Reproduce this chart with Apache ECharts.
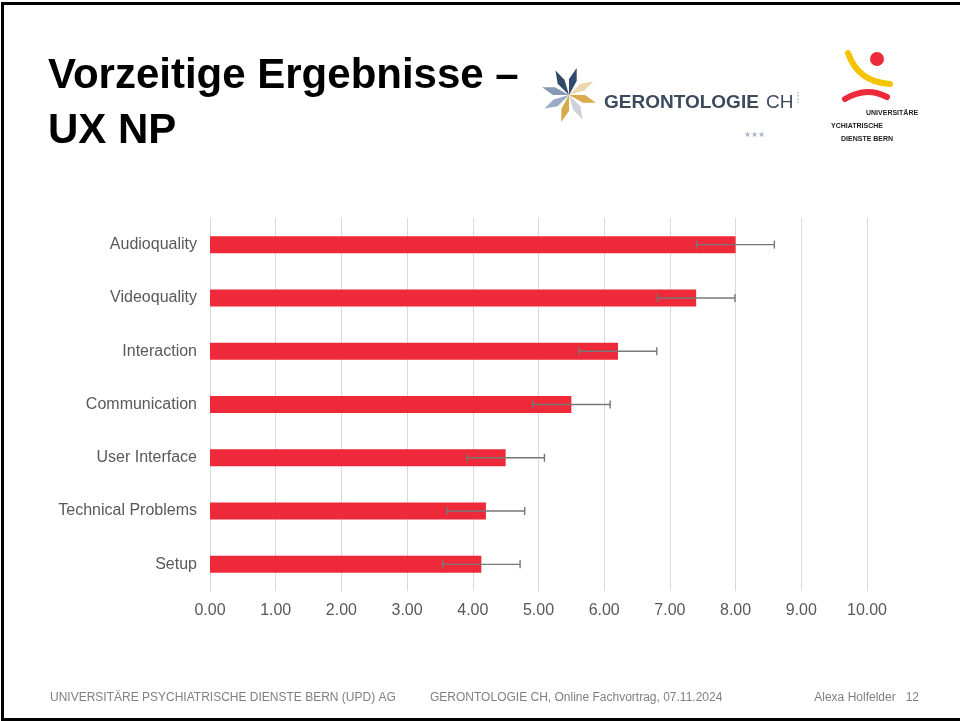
<!DOCTYPE html>
<html>
<head>
<meta charset="utf-8">
<script src="https://cdn.jsdelivr.net/npm/echarts@6/dist/echarts.min.js"></script>
<style>
  html, body { margin: 0; padding: 0; background: #fff; }
  #main { width: 960px; height: 721px; }
</style>
</head>
<body>
<div id="main"></div>
<script>
// chart data
const categories = ["Audioquality", "Videoquality", "Interaction", "Communication", "User Interface", "Technical Problems", "Setup"]
const means = [8.0, 7.4, 6.21, 5.5, 4.5, 4.2, 4.13]
const errors = [0.59, 0.59, 0.59, 0.59, 0.59, 0.59, 0.59]
const xTicks = [0, 1, 2, 3, 4, 5, 6, 7, 8, 9, 10]

const titleLines = ["Vorzeitige Ergebnisse –", "UX NP"]
const footerLeft = "UNIVERSITÄRE PSYCHIATRISCHE DIENSTE BERN (UPD) AG"
const footerMid = "GERONTOLOGIE CH, Online Fachvortrag, 07.11.2024"
const footerRight = "Alexa Holfelder   12"

const font = "'Liberation Sans', Arial, sans-serif"
const myChart = echarts.init(document.getElementById("main"))

const errData = categories.map((c, i) => [i, means[i] - errors[i], means[i] + errors[i]])

// petals of the gerontologie flower logo
function flowerPetals (cx, cy) {
  const colors = ["#1e3a5f", "#e9d6a6", "#d6a43c", "#c9ccd4", "#d3a23a", "#90a4bf", "#7c8fab", "#1f3b60"]
  const out = []
  for (let k = 0; k < 8; k++) {
    const a = (k * Math.PI) / 4 - Math.PI / 2
    const b = a + 0.5
    const p0 = [cx, cy]
    const p1 = [cx + 16 * Math.cos(a), cy + 16 * Math.sin(a)]
    const p2 = [cx + 28 * Math.cos(a + 0.28), cy + 28 * Math.sin(a + 0.28)]
    const p3 = [cx + 16 * Math.cos(b), cy + 16 * Math.sin(b)]
    out.push({
      type: "polygon",
      shape: { points: [p0, p1, p2, p3] },
      style: { fill: colors[k], opacity: 0.92 }
    })
  }
  return out
}

const option = {
  backgroundColor: "#fff",
  animation: false,
  grid: { left: 210, top: 218, width: 657, height: 373, containLabel: false },
  xAxis: {
    type: "value",
    min: 0,
    max: 10,
    interval: 1,
    axisLine: { show: false },
    axisTick: { show: false },
    axisLabel: {
      color: "#595959",
      fontSize: 16,
      fontFamily: font,
      margin: 12,
      formatter: v => (xTicks.indexOf(v) >= 0 ? v.toFixed(2) : "")
    },
    splitLine: { lineStyle: { color: "#d9d9d9", width: 1 } }
  },
  yAxis: {
    type: "category",
    data: categories,
    inverse: true,
    axisLine: { show: false },
    axisTick: { show: false },
    axisLabel: { color: "#595959", fontSize: 16, fontFamily: font, margin: 13 }
  },
  series: [
    {
      type: "bar",
      data: means,
      barWidth: 17,
      itemStyle: { color: "#ee2a3a" }
    },
    {
      type: "custom",
      data: errData,
      z: 10,
      renderItem: function (params, api) {
        const y = api.value(0)
        const lo = api.coord([api.value(1), y])
        const hi = api.coord([api.value(2), y])
        const h = 4
        const st = { stroke: "#777", lineWidth: 1.4 }
        return {
          type: "group",
          children: [
            { type: "line", shape: { x1: lo[0], y1: lo[1], x2: hi[0], y2: hi[1] }, style: st },
            { type: "line", shape: { x1: lo[0], y1: lo[1] - h, x2: lo[0], y2: lo[1] + h }, style: st },
            { type: "line", shape: { x1: hi[0], y1: hi[1] - h, x2: hi[0], y2: hi[1] + h }, style: st }
          ]
        }
      }
    }
  ],
  graphic: [
    // slide frame
    { type: "rect", shape: { x: 2.5, y: 3.5, width: 970, height: 716 }, style: { fill: null, stroke: "#000", lineWidth: 3 }, silent: true },
    // title
    { type: "text", left: 48, top: 55, style: { text: titleLines[0], font: "bold 42px " + font, fill: "#000" } },
    { type: "text", left: 48, top: 110, style: { text: titleLines[1], font: "bold 42px " + font, fill: "#000" } },
    // gerontologie logo
    { type: "group", children: flowerPetals(569, 95) },
    { type: "text", left: 604, top: 93, style: { text: "GERONTOLOGIE", font: "bold 19px " + font, fill: "#3d4a5e" } },
    { type: "text", left: 766, top: 93, style: { text: "CH", font: "19px " + font, fill: "#3d4a5e" } },
    { type: "text", left: 796, top: 92, style: { text: "⁞", font: "14px " + font, fill: "#aab4cc" } },
    { type: "text", left: 744, top: 131, style: { text: "★★★", font: "8px " + font, fill: "#aab4cc" } },
    // UPD logo
    {
      type: "bezierCurve",
      shape: { x1: 848, y1: 53, x2: 890, y2: 84, cpx1: 858, cpy1: 82 },
      style: { stroke: "#f5c400", lineWidth: 6, lineCap: "round", fill: null }
    },
    { type: "circle", shape: { cx: 877, cy: 59, r: 7 }, style: { fill: "#ee2a3a" } },
    {
      type: "bezierCurve",
      shape: { x1: 845, y1: 99, x2: 887, y2: 97, cpx1: 866, cpy1: 86 },
      style: { stroke: "#ee2a3a", lineWidth: 6, lineCap: "round", fill: null }
    },
    { type: "text", left: 866, top: 110, style: { text: "UNIVERSITÄRE", font: "bold 7px " + font, fill: "#222" } },
    { type: "text", left: 831, top: 123, style: { text: "YCHIATRISCHE", font: "bold 7px " + font, fill: "#222" } },
    { type: "text", left: 841, top: 136, style: { text: "DIENSTE BERN", font: "bold 7px " + font, fill: "#222" } },
    // footer
    { type: "text", left: 50, top: 692, style: { text: footerLeft, font: "12px " + font, fill: "#808080" } },
    { type: "text", left: 430, top: 692, style: { text: footerMid, font: "12px " + font, fill: "#808080" } },
    { type: "text", right: 41, top: 692, style: { text: footerRight, font: "12px " + font, fill: "#808080" } }
  ]
}

myChart.setOption(option)
</script>
</body>
</html>
